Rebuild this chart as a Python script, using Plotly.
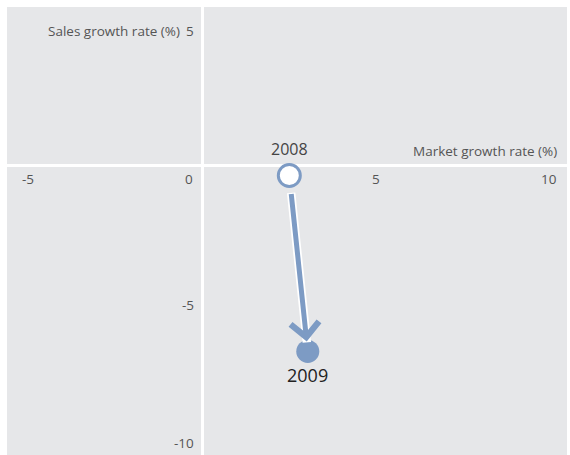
import plotly.graph_objects as go

# Market growth vs. sales growth, 2008 -> 2009
years = ["2008", "2009"]
market_growth = [2.45, 2.97]   # %
sales_growth = [-0.38, -6.78]  # %

x_ticks = [-5, 0, 5, 10]
y_ticks = [5, -5, -10]

BLUE = "#7d9bc4"
GREY_TXT = "#555555"
BG = "#e6e7e9"
FONT = "Open Sans"
TXT = 13.5

fig = go.Figure()

# 2008: hollow marker, 2009: filled marker
fig.add_trace(go.Scatter(
    x=[market_growth[0]], y=[sales_growth[0]], mode="markers",
    marker=dict(size=22, color="white", line=dict(color=BLUE, width=3)),
    hoverinfo="skip", showlegend=False))
fig.add_trace(go.Scatter(
    x=[market_growth[1]], y=[sales_growth[1]], mode="markers",
    marker=dict(size=23, color=BLUE, line=dict(width=0)),
    hoverinfo="skip", showlegend=False))

ann = []
# arrow from 2008 to 2009: white halo line underneath, blue arrow on top
arrow_base = dict(x=market_growth[1], y=sales_growth[1], xref="x", yref="y",
                  ax=market_growth[0], ay=sales_growth[0], axref="x", ayref="y",
                  showarrow=True, text="")
ann.append(dict(arrow_base, arrowhead=0, arrowwidth=8.5, arrowcolor="white",
                standoff=9, startstandoff=16))
ann.append(dict(arrow_base, arrowhead=4, arrowwidth=5, arrowsize=1.1,
                arrowcolor=BLUE, standoff=10, startstandoff=17))

# year labels
ann.append(dict(x=market_growth[0], y=sales_growth[0], xref="x", yref="y",
                text=years[0], showarrow=False, yanchor="bottom", yshift=13,
                font=dict(family=FONT, size=16, color="#444444")))
ann.append(dict(x=market_growth[1], y=sales_growth[1], xref="x", yref="y",
                text=years[1], showarrow=False, yanchor="top", yshift=-10,
                font=dict(family=FONT, size=18, color="#222222")))

# tick labels along the zero lines
for v in x_ticks:
    if v == x_ticks[0]:
        anchor, shift = "center", 3
    elif v == 0:
        anchor, shift = "right", -7
    else:
        anchor, shift = "right", 2
    ann.append(dict(x=v, y=0, xref="x", yref="y", text=str(v), showarrow=False,
                    xanchor=anchor, xshift=shift, yanchor="top", yshift=-3,
                    font=dict(family=FONT, size=TXT, color=GREY_TXT)))
for v in y_ticks:
    ann.append(dict(x=0, y=v, xref="x", yref="y", text=str(v), showarrow=False,
                    xanchor="right", xshift=-6, yanchor="middle", yshift=-3,
                    font=dict(family=FONT, size=TXT, color=GREY_TXT)))

# axis titles
ann.append(dict(x=0, y=y_ticks[0], xref="x", yref="y", text="Sales growth rate (%)",
                showarrow=False, xanchor="right", xshift=-20, yanchor="middle", yshift=-3,
                font=dict(family=FONT, size=TXT, color=GREY_TXT)))
ann.append(dict(x=x_ticks[-1], y=0, xref="x", yref="y", text="Market growth rate (%)",
                showarrow=False, xanchor="right", xshift=2, yanchor="bottom", yshift=3,
                font=dict(family=FONT, size=TXT, color=GREY_TXT)))

axis_common = dict(showgrid=False, showticklabels=False, ticks="",
                   zeroline=True, zerolinecolor="white", zerolinewidth=3,
                   showline=False)

fig.update_layout(
    width=570, height=455,
    margin=dict(l=7, r=3, t=7, b=0),
    paper_bgcolor="white", plot_bgcolor=BG,
    xaxis=dict(range=[-5.5, 10.27], **axis_common),
    yaxis=dict(range=[-10.55, 5.75], **axis_common),
    annotations=ann,
    font=dict(family=FONT),
)

fig.write_html("out.html")
